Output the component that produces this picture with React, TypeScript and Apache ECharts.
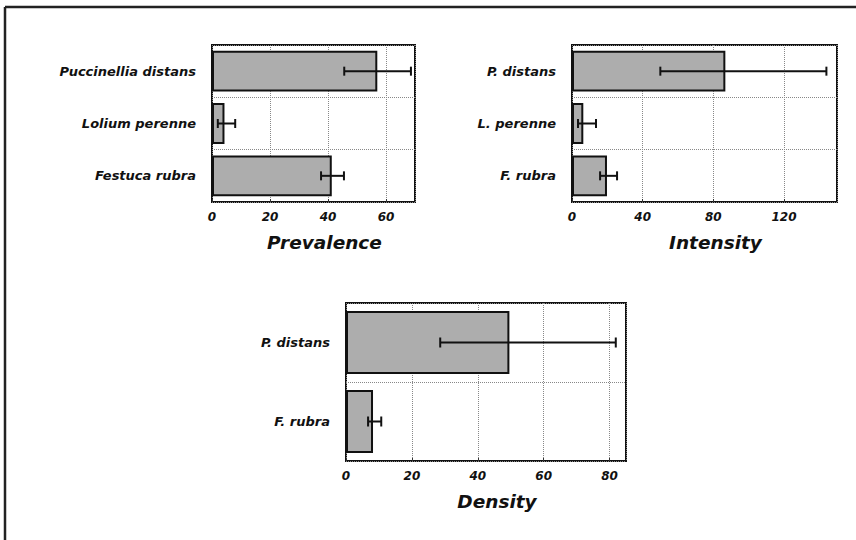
import { useEffect, useRef } from "react";
import * as echarts from "echarts";

// Prevalence panel
const prevCats = ["Puccinellia distans", "Lolium perenne", "Festuca rubra"];
const prevMean = [57, 4.3, 41.3];
const prevLow = [45.6, 2, 37.6];
const prevHigh = [68.6, 8, 45.5];

// Intensity panel
const intCats = ["P. distans", "L. perenne", "F. rubra"];
const intMean = [86.8, 6.4, 19.8];
const intLow = [50, 3.4, 15.9];
const intHigh = [144, 13.6, 25.5];

// Density panel
const denCats = ["P. distans", "F. rubra"];
const denMean = [49.6, 8.2];
const denLow = [28.6, 6.7];
const denHigh = [81.9, 10.7];

const FONT = "DejaVu Sans";

function panelAxes(idx: number, cats: string[], max: number, interval: number, name: string) {
  const xAxis = {
    type: "value",
    gridIndex: idx,
    min: 0,
    max,
    interval,
    name,
    nameLocation: "middle",
    nameGap: 31,
    nameTextStyle: {
      fontFamily: FONT,
      fontWeight: "bold",
      fontStyle: "italic",
      fontSize: 18.5,
      color: "#111",
      padding: [0, 0, 0, 22],
    },
    axisLine: { show: false },
    axisTick: { show: true, inside: true, length: 3, lineStyle: { color: "#333" } },
    axisLabel: {
      showMaxLabel: false,
      margin: 9,
      fontFamily: FONT,
      fontWeight: "bold",
      fontStyle: "italic",
      fontSize: 12,
      color: "#111",
    },
    splitLine: { show: true, lineStyle: { type: "dotted", color: "#888", width: 1 } },
  };
  const yAxis = {
    type: "category",
    gridIndex: idx,
    data: cats,
    inverse: true,
    axisLine: { show: false },
    axisTick: { show: false },
    axisLabel: {
      margin: 16,
      fontFamily: FONT,
      fontWeight: "bold",
      fontStyle: "italic",
      fontSize: 13,
      color: "#111",
    },
    splitLine: { show: true, interval: 0, lineStyle: { type: "dotted", color: "#888", width: 1 } },
  };
  return { xAxis, yAxis };
}

function panelSeries(idx: number, mean: number[], low: number[], high: number[], gap: string, cap: number) {
  return [
    {
      type: "bar",
      xAxisIndex: idx,
      yAxisIndex: idx,
      data: mean,
      barCategoryGap: gap,
      itemStyle: { color: "#adadad", borderColor: "#111", borderWidth: 2 },
      z: 2,
    },
    {
      type: "custom",
      xAxisIndex: idx,
      yAxisIndex: idx,
      data: mean.map((_, i) => [i, low[i], high[i]]),
      encode: { x: [1, 2], y: 0 },
      z: 3,
      renderItem: (_params: any, api: any) => {
        const cat = api.value(0);
        const lo = api.coord([api.value(1), cat]);
        const hi = api.coord([api.value(2), cat]);
        const style = { stroke: "#111", lineWidth: 2 };
        return {
          type: "group",
          children: [
            { type: "line", shape: { x1: lo[0], y1: lo[1], x2: hi[0], y2: hi[1] }, style },
            { type: "line", shape: { x1: lo[0], y1: lo[1] - cap, x2: lo[0], y2: lo[1] + cap }, style },
            { type: "line", shape: { x1: hi[0], y1: hi[1] - cap, x2: hi[0], y2: hi[1] + cap }, style },
          ],
        };
      },
    },
  ];
}

export default function App() {
  const ref = useRef<HTMLDivElement>(null);
  useEffect(() => {
    if (!ref.current) return;
    const chart = echarts.init(ref.current, null, { renderer: "svg" });
    const p1 = panelAxes(0, prevCats, 70, 20, "Prevalence");
    const p2 = panelAxes(1, intCats, 150, 40, "Intensity");
    const p3 = panelAxes(2, denCats, 85, 20, "Density");
    const gridStyle = { show: true, borderColor: "#111", borderWidth: 2, backgroundColor: "#fff", containLabel: false };
    chart.setOption({
      animation: false,
      backgroundColor: "#fff",
      grid: [
        { ...gridStyle, left: 212, top: 45, width: 203, height: 157 },
        { ...gridStyle, left: 572, top: 45, width: 265, height: 157 },
        { ...gridStyle, left: 346, top: 303, width: 280, height: 158 },
      ],
      xAxis: [p1.xAxis, p2.xAxis, p3.xAxis],
      yAxis: [p1.yAxis, p2.yAxis, p3.yAxis],
      series: [
        ...panelSeries(0, prevMean, prevLow, prevHigh, "22%", 4.5),
        ...panelSeries(1, intMean, intLow, intHigh, "22%", 4.5),
        ...panelSeries(2, denMean, denLow, denHigh, "20%", 5),
      ],
      graphic: [
        { type: "line", shape: { x1: 5, y1: 7, x2: 856, y2: 7 }, style: { stroke: "#222", lineWidth: 2.5 } },
        { type: "line", shape: { x1: 5, y1: 7, x2: 5, y2: 540 }, style: { stroke: "#222", lineWidth: 2.5 } },
      ],
    });
    return () => chart.dispose();
  }, []);
  return (
    <div
      ref={ref}
      style={{ position: "absolute", left: 0, top: 0, width: 856, height: 540, background: "#fff" }}
    />
  );
}
